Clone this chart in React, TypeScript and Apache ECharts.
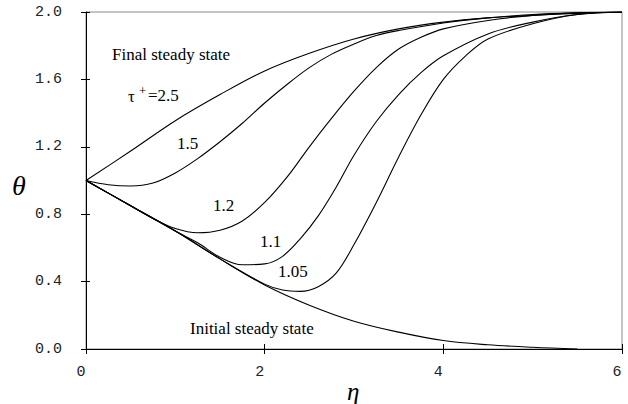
import React, { useEffect, useRef } from "react";
import * as echarts from "echarts";

// ---- data ----
const xTicks = [0, 2, 4, 6];
const yTicks = [0.0, 0.4, 0.8, 1.2, 1.6, 2.0];

const finalEta = [0, 0.5, 1, 1.5, 2, 2.5, 3, 3.5, 4, 4.5, 5, 5.5, 6];
const finalTheta = [1, 1.175, 1.355, 1.51, 1.65, 1.755, 1.84, 1.9, 1.94, 1.965, 1.98, 1.992, 2.0];

const tau15Eta = [0, 0.25, 0.5, 0.75, 1, 1.25, 1.5, 1.75, 2, 2.25, 2.5, 2.75, 3, 3.25, 3.5, 4, 4.5, 5, 5.5, 6];
const tau15Theta = [1, 0.975, 0.967, 0.985, 1.045, 1.13, 1.23, 1.34, 1.46, 1.57, 1.67, 1.75, 1.81, 1.86, 1.89, 1.935, 1.965, 1.985, 1.995, 2];

const tau12Eta = [0, 0.25, 0.5, 0.75, 1, 1.25, 1.5, 1.75, 2, 2.25, 2.5, 2.75, 3, 3.25, 3.5, 3.75, 4, 4.5, 5, 5.5, 6];
const tau12Theta = [1, 0.925, 0.85, 0.775, 0.715, 0.69, 0.705, 0.76, 0.87, 1.02, 1.2, 1.37, 1.53, 1.67, 1.78, 1.85, 1.9, 1.95, 1.98, 1.995, 2];

const tau11Eta = [0, 0.5, 1, 1.25, 1.5, 1.75, 2, 2.2, 2.4, 2.6, 2.8, 3, 3.25, 3.5, 3.75, 4, 4.5, 5, 5.5, 6];
const tau11Theta = [1, 0.85, 0.7, 0.63, 0.545, 0.5, 0.505, 0.55, 0.655, 0.79, 0.96, 1.15, 1.35, 1.51, 1.64, 1.74, 1.87, 1.94, 1.985, 2];

const tau105Eta = [0, 0.5, 1, 1.5, 2, 2.2, 2.4, 2.6, 2.8, 3, 3.25, 3.5, 3.75, 4, 4.25, 4.5, 5, 5.5, 6];
const tau105Theta = [1, 0.85, 0.7, 0.535, 0.385, 0.35, 0.342, 0.37, 0.45, 0.62, 0.87, 1.14, 1.39, 1.6, 1.74, 1.84, 1.93, 1.985, 2];

const initialEta = [0, 0.5, 1, 1.5, 2, 2.5, 3, 3.5, 4, 4.5, 5, 5.5];
const initialTheta = [1, 0.85, 0.7, 0.535, 0.38, 0.26, 0.165, 0.1, 0.05, 0.025, 0.01, 0.0];

const curveNames = ["final", "1.5", "1.2", "1.1", "1.05", "initial"];
const curveEtas = [finalEta, tau15Eta, tau12Eta, tau11Eta, tau105Eta, initialEta];
const curveThetas = [finalTheta, tau15Theta, tau12Theta, tau11Theta, tau105Theta, initialTheta];

const SERIF = "Liberation Serif";
const MONO = "Liberation Mono";

export default function App() {
  const ref = useRef<HTMLDivElement>(null);

  useEffect(() => {
    if (!ref.current) return;
    const chart = echarts.init(ref.current, undefined, { renderer: "svg" });

    const series = curveNames.map((name, i) => ({
      name,
      type: "line",
      xAxisIndex: 0,
      yAxisIndex: 0,
      data: curveEtas[i].map((x, j) => [x, curveThetas[i][j]]),
      showSymbol: false,
      smooth: 0.35,
      lineStyle: { color: "#000", width: 1.1 },
      z: 3,
    }));

    const annotation = (text: string, x: number, y: number, size = 17, italic = false, align = "left") => ({
      type: "text",
      x,
      y,
      style: {
        text,
        fontFamily: SERIF,
        fontSize: size,
        fontStyle: italic ? "italic" : "normal",
        fill: "#000",
        textAlign: align,
        textVerticalAlign: "middle",
      },
      z: 10,
    });

    chart.setOption({
      animation: false,
      backgroundColor: "#fff",
      grid: {
        left: 86,
        right: 6,
        top: 12,
        bottom: 55,
        show: true,
        borderColor: "#8a8a8a",
        borderWidth: 1,
        backgroundColor: "transparent",
      },
      xAxis: [
        {
          type: "value",
          position: "bottom",
          min: xTicks[0],
          max: xTicks[xTicks.length - 1],
          interval: xTicks[1] - xTicks[0],
          axisLine: { show: true, lineStyle: { color: "#000", width: 1 } },
          axisTick: { show: true, length: 5, lineStyle: { color: "#000" } },
          axisLabel: {
            fontFamily: MONO,
            fontSize: 15,
            color: "#222",
            margin: 16,
            padding: [0, 10, 0, 0],
          },
          splitLine: { show: false },
        },
        {
          type: "value",
          position: "bottom",
          min: xTicks[0],
          max: xTicks[xTicks.length - 1],
          interval: xTicks[1] - xTicks[0],
          axisLine: { show: false },
          axisTick: { show: true, inside: true, length: 5, lineStyle: { color: "#000" } },
          axisLabel: { show: false },
          splitLine: { show: false },
        },
      ],
      yAxis: [
        {
          type: "value",
          position: "left",
          min: yTicks[0],
          max: yTicks[yTicks.length - 1],
          interval: yTicks[1] - yTicks[0],
          axisLine: { show: true, lineStyle: { color: "#000", width: 1 } },
          axisTick: { show: true, length: 5, lineStyle: { color: "#000" } },
          axisLabel: {
            fontFamily: MONO,
            fontSize: 15,
            color: "#222",
            margin: 24,
            formatter: (v: number) => v.toFixed(1),
          },
          splitLine: { show: false },
        },
        {
          type: "value",
          position: "left",
          min: yTicks[0],
          max: yTicks[yTicks.length - 1],
          interval: yTicks[1] - yTicks[0],
          axisLine: { show: false },
          axisTick: { show: true, inside: true, length: 4, lineStyle: { color: "#000" } },
          axisLabel: { show: false },
          splitLine: { show: false },
        },
      ],
      series,
      graphic: [
        annotation("Final steady state", 112, 54),
        annotation("τ", 128, 96),
        annotation("+", 139, 90, 13),
        annotation("=2.5", 148, 95),
        annotation("1.5", 177, 143),
        annotation("1.2", 213, 205),
        annotation("1.1", 260, 241),
        annotation("1.05", 278, 271),
        annotation("Initial steady state", 190, 328),
        annotation("θ", 12, 185, 28, true),
        annotation("η", 347, 391, 25, true),
      ],
    });

    return () => chart.dispose();
  }, []);

  return (
    <div
      ref={ref}
      style={{ width: 628, height: 404, position: "absolute", left: 0, top: 0, background: "#fff" }}
    />
  );
}
